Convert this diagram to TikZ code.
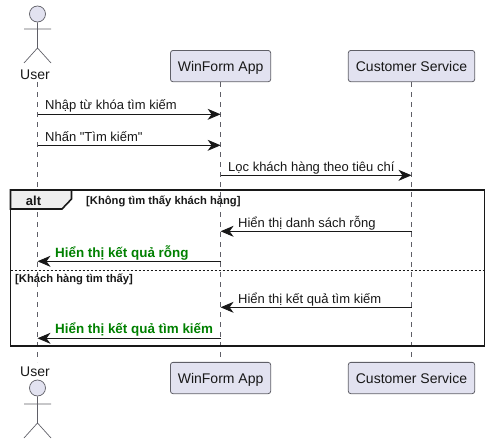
\documentclass[tikz,border=0pt]{standalone}
\usepackage{fontspec}
\setmainfont{Liberation Sans}
\newfontfamily\plainquote{Liberation Sans}
\usetikzlibrary{arrows.meta}
\definecolor{partfill}{HTML}{E2E2F0}
\definecolor{partline}{HTML}{5F5F67}
\definecolor{ink}{HTML}{181818}
\definecolor{okgreen}{HTML}{008000}
\definecolor{tabfill}{HTML}{EEEEEE}
\tikzset{
  part/.style={draw=partline,fill=partfill,line width=0.8pt,rounded corners=2.5pt,inner sep=0pt,minimum height=31.3pt,text height=11.5pt,text depth=0pt,font=\fontsize{14}{16}\selectfont,text=ink},
  lifeline/.style={draw=partline,line width=0.7pt,dash pattern=on 5pt off 5pt},
  msg/.style={draw=ink,line width=0.9pt,-{Stealth[length=13pt,width=11pt,inset=4pt]}},
  msgtext/.style={anchor=base west,inner sep=0pt,font=\fontsize{13}{15}\selectfont,text=ink},
  greentext/.style={anchor=base west,inner sep=0pt,font=\fontsize{13.4}{16}\bfseries\selectfont,text=okgreen},
  guard/.style={anchor=base west,inner sep=0pt,font=\fontsize{11.2}{13}\bfseries\selectfont,text=ink},
  stick/.style={draw=partline,line width=0.7pt},
  head/.style={draw=partline,fill=partfill,line width=0.7pt,circle,inner sep=0pt,minimum size=16pt},
  actorname/.style={inner sep=0pt,font=\fontsize{14}{16}\selectfont,text=ink},
  framebox/.style={draw=ink,line width=1.6pt},
}
\begin{document}
\begin{tikzpicture}[x=1pt,y=-1pt]
\useasboundingbox (0,0) rectangle (490,444);
% participants
\node[actorname] (userT) at (35,75) {User};
\node[actorname] (userB) at (35,372) {User};
\node[part,minimum width=100.2pt] (winT) at (220.6,66.1) {WinForm App};
\node[part,minimum width=126.4pt] (csT) at (411.5,66.1) {Customer Service};
\node[part,minimum width=100.2pt] (winB) at (220.6,378) {WinForm App};
\node[part,minimum width=126.4pt] (csB) at (411.5,378) {Customer Service};
% actors
\node[head] (headT) at (37.5,14) {};
\node[head] (headB) at (37.5,388) {};
\coordinate (bodyT) at (37.5,48);
\coordinate (bodyB) at (37.5,423);
\draw[stick] (headT) -- (bodyT) -- (24,63) (bodyT) -- (51,63) (24,29) -- (51,29);
\draw[stick] (headB) -- (bodyB) -- (24,438) (bodyB) -- (51,438) (24,404) -- (51,404);
% lifelines
\coordinate (uTop) at (37.5,82);
\coordinate (uBot) at (37.5,362);
\draw[lifeline] (uTop) -- (uBot);
\draw[lifeline] (winT.south) -- (winB.north);
\draw[lifeline] (csT.south) -- (csB.north);
% alt frame
\coordinate (fTL) at (10.5,190);
\coordinate (fBR) at (484.5,346);
\draw[framebox] (fTL) rectangle (fBR);
\draw[framebox,fill=tabfill] (10.5,190) -- (71.5,190) -- (71.5,199) -- (62,209) -- (10.5,209) -- cycle;
\node[anchor=base,inner sep=0pt,font=\fontsize{13}{15}\bfseries\selectfont,text=ink] (alttag) at (33.5,205) {alt};
\node[guard] (g1) at (86,204) {[Không tìm thấy khách hàng]};
\coordinate (sepL) at (10.5,270.3);
\coordinate (sepR) at (484.5,270.3);
\draw[draw=ink,line width=0.7pt,dash pattern=on 2pt off 2pt] (sepL) -- (sepR);
\node[guard] (g2) at (15,282) {[Khách hàng tìm thấy]};
% messages
\foreach \n/\y in {1/114.3,2/145.3,3/175.3,4/231.3,5/261.3,6/307.3,7/338.3}{
  \coordinate (u\n) at (37.5,\y);
  \coordinate (w\n) at (220.6,\y);
  \coordinate (c\n) at (411.5,\y);
}
\draw[msg] (u1) -- (w1);
\node[msgtext] (m1) at (45,110) {Nhập từ khóa tìm kiếm};
\draw[msg] (u2) -- (w2);
\node[msgtext] (m2) at (45,141) {\plainquote Nhấn "Tìm kiếm"};
\draw[msg] (w3) -- (c3);
\node[msgtext] (m3) at (228,171) {Lọc khách hàng theo tiêu chí};
\draw[msg] (c4) -- (w4);
\node[msgtext] (m4) at (238,227) {Hiển thị danh sách rỗng};
\draw[msg] (w5) -- (u5);
\node[greentext] (m5) at (55,257) {Hiển thị kết quả rỗng};
\draw[msg] (c6) -- (w6);
\node[msgtext] (m6) at (238,303) {Hiển thị kết quả tìm kiếm};
\draw[msg] (w7) -- (u7);
\node[greentext] (m7) at (55,333) {Hiển thị kết quả tìm kiếm};
\end{tikzpicture}
\end{document}
